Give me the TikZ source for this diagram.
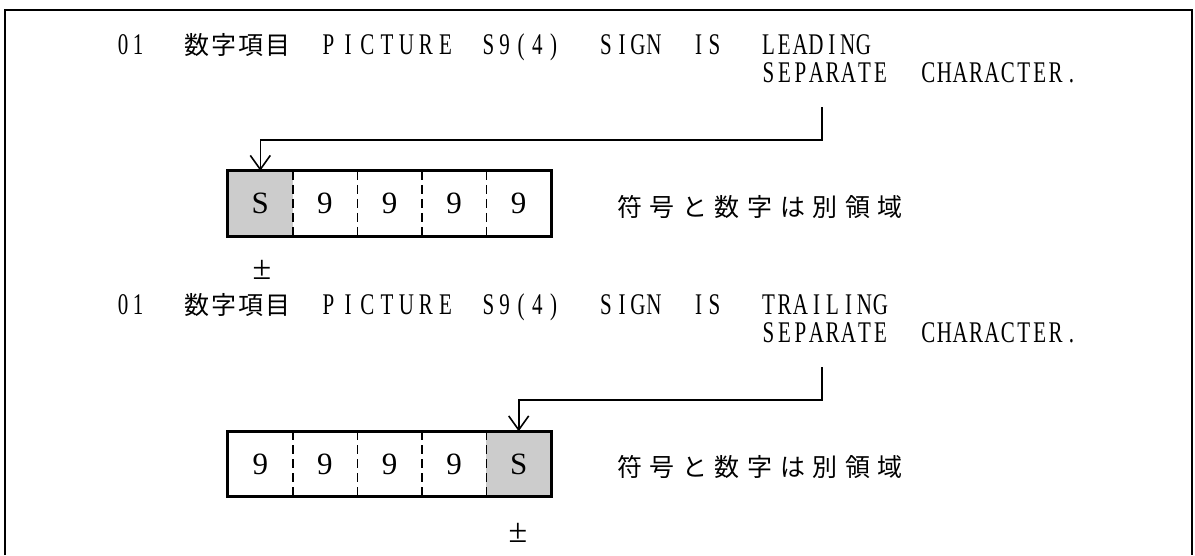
\documentclass[tikz,border=0pt]{standalone}
\usepackage{fontspec}
\usepackage{graphicx}
\setmainfont{Liberation Serif}
\newfontfamily\cjk{Noto Sans CJK JP}
\usetikzlibrary{arrows.meta}
\makeatletter
\newcommand\monow[2]{\def\my@adv{#1}\my@mono#2\relax}
\def\my@mono#1{\ifx#1\relax\else\makebox[\my@adv pt][c]{\scalebox{0.7}[1]{#1}}\expandafter\my@mono\fi}
\newcommand\jpw[2]{\def\my@jadv{#1}\my@jp#2\relax}
\def\my@jp#1{\ifx#1\relax\else\makebox[\my@jadv pt][c]{#1}\expandafter\my@jp\fi}
\makeatother
\tikzset{
  code/.style={anchor=base, inner sep=0pt, font=\fontsize{30}{30}\selectfont},
  jp/.style={anchor=base, inner sep=0pt, font=\cjk\fontsize{25}{25}\selectfont},
  cell/.style={minimum width=64.6pt, minimum height=65pt, inner sep=0pt, font=\fontsize{31}{31}\selectfont},
  signcell/.style={cell, fill=black!20},
  pm/.style={inner sep=0pt, font=\fontsize{34}{34}\selectfont},
  outline/.style={line width=3pt},
  divider/.style={line width=1.5pt, dash pattern=on 9pt off 5pt},
  arr/.style={line width=1.6pt, -{Straight Barb[length=14pt,width=20pt]}},
  frame/.style={line width=1.8pt}
}
\begin{document}
\begin{tikzpicture}[x=1pt,y=-1pt]
\useasboundingbox (0,0) rectangle (1195,555);
\draw[frame] (5,555) -- (5,10) -- (1192,10) -- (1192,555);

% ---- block 1 ----
\node[code] (a01) at (130.5,54) {\monow{15}{01}};
\node[jp]   (ajp) at (237.5,54) {\jpw{27.3}{数字項目}};
\node[code] (apic) at (387,54) {\monow{19.5}{PICTURE}};
\node[code] (as9) at (521,54) {\monow{16.3}{S9(4)}};
\node[code] (asign) at (630,54) {\monow{16}{SIGN}};
\node[code] (ais) at (706.5,54) {\monow{16}{IS}};
\node[code] (alead) at (816,54) {\monow{15.8}{LEADING}};
\node[code] (asep) at (824.5,82) {\monow{16}{SEPARATE}};
\node[code] (achar) at (1000,82) {\monow{15.9}{CHARACTER.}};

\node[signcell] (b1) at (260.3,203.5) {S};
\node[cell] (b2) at (324.9,203.5) {9};
\node[cell] (b3) at (389.5,203.5) {9};
\node[cell] (b4) at (454.1,203.5) {9};
\node[cell] (b5) at (518.7,203.5) {9};
\draw[outline] (b1.north west) rectangle (b5.south east);
\foreach \c in {b1,b2,b3,b4} \draw[divider] (\c.north east) -- (\c.south east);
\node[jp] (anote) at (760,216) {\jpw{32.6}{符号と数字は別領域}};
\node[pm] (apm) at (262,270) {±};

\coordinate (k1) at (822,107);
\coordinate (m1) at (b1.north |- 0,140);
\draw[arr] (k1) |- (m1) -- (b1.north);

% ---- block 2 ----
\node[code] (c01) at (130.5,314) {\monow{15}{01}};
\node[jp]   (cjp) at (237.5,314) {\jpw{27.3}{数字項目}};
\node[code] (cpic) at (387,314) {\monow{19.5}{PICTURE}};
\node[code] (cs9) at (521,314) {\monow{16.3}{S9(4)}};
\node[code] (csign) at (630,314) {\monow{16}{SIGN}};
\node[code] (cis) at (706.5,314) {\monow{16}{IS}};
\node[code] (ctrail) at (824.5,314) {\monow{16}{TRAILING}};
\node[code] (csep) at (824.5,342) {\monow{16}{SEPARATE}};
\node[code] (cchar) at (1000,342) {\monow{15.9}{CHARACTER.}};

\node[cell] (d1) at (260.3,464) {9};
\node[cell] (d2) at (324.9,464) {9};
\node[cell] (d3) at (389.5,464) {9};
\node[cell] (d4) at (454.1,464) {9};
\node[signcell] (d5) at (518.7,464) {S};
\draw[outline] (d1.north west) rectangle (d5.south east);
\foreach \c in {d1,d2,d3,d4} \draw[divider] (\c.north east) -- (\c.south east);
\node[jp] (cnote) at (760,476) {\jpw{32.6}{符号と数字は別領域}};
\node[pm] (cpm) at (518,533) {±};

\coordinate (k2) at (822,367);
\coordinate (m2) at (d5.north |- 0,400);
\draw[arr] (k2) |- (m2) -- (d5.north);
\end{tikzpicture}
\end{document}
